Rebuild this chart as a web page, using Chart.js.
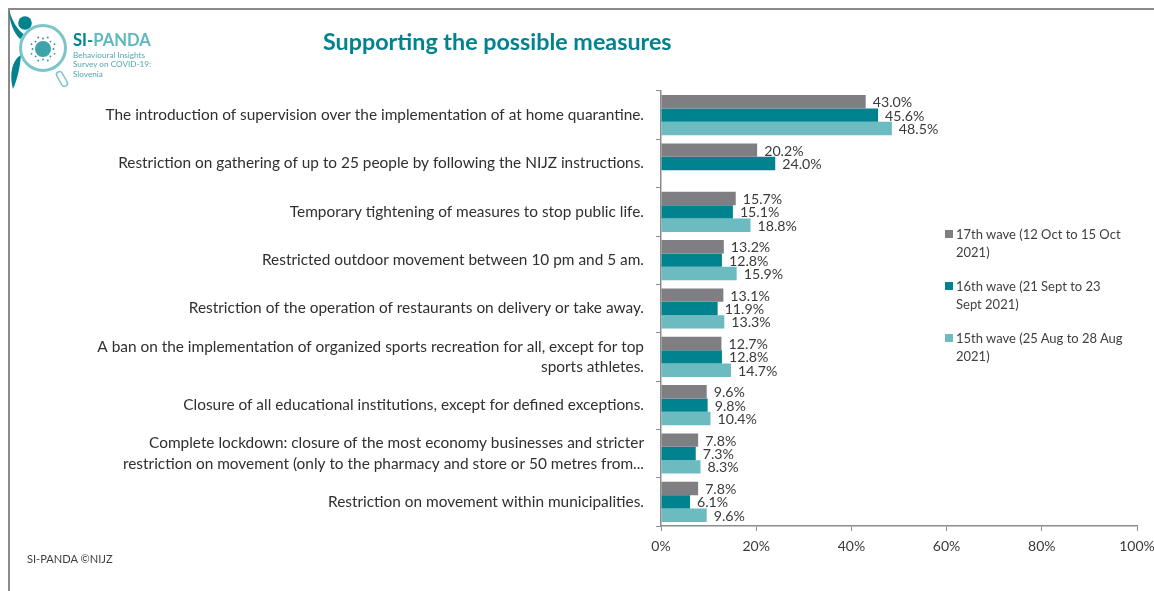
<!DOCTYPE html>
<html>
<head>
    <script src="https://cdn.jsdelivr.net/npm/chart.js"></script>
    <style>
        html, body { margin: 0; padding: 0; background: #fff; }
        body {
            width: 1154px;
            height: 591px;
            position: relative;
            overflow: hidden;
            font-family: Lato, sans-serif;
            color: #404040;
        }
        #frame {
            position: absolute;
            left: 8px;
            top: 8px;
            width: 1146px;
            height: 583px;
            border-left: 2px solid #8a8a8a;
            border-top: 2px solid #8a8a8a;
            box-sizing: border-box;
        }
        canvas { position: absolute; left: 0; top: 0; }
        .title {
            position: absolute;
            left: 323px;
            top: 27px;
            font-size: 23.3px;
            line-height: 28px;
            font-weight: 700;
            color: #00838f;
            white-space: nowrap;
        }
        .brand { position: absolute; left: 73px; top: 30px; white-space: nowrap; }
        .brand b { display: block; font-size: 16.6px; line-height: 20px; margin-bottom: 0.5px; color: #5fb8bf; }
        .brand b span { color: #00838f; }
        .brand div { font-size: 8.2px; line-height: 9.8px; color: #4fa9b0; }
        .footer { position: absolute; left: 27px; top: 552px; font-size: 11.1px; line-height: 14px; color: #404040; }
        .legend { position: absolute; left: 945px; top: 225px; width: 181px; }
        .legend div {
            position: relative;
            padding-left: 11px;
            height: 52px;
            font-size: 13px;
            line-height: 18px;
        }
        .legend i {
            position: absolute;
            left: 0;
            top: 5px;
            width: 8px;
            height: 8px;
        }
    </style>
</head>
<body>
    <div id="frame"></div>
    <canvas id="measuresChart" width="1154" height="591"></canvas>

    <svg style="position:absolute;left:0;top:0" width="80" height="100" id="logo">
        <circle cx="25" cy="23" r="6.8" fill="#00838f"/>
        <path d="M9 10 C12 20 17 30 25 35 L20 39 C13 32 9 20 9 10 Z" fill="#00838f"/>
        <path d="M13 89 C9 75 12 60 21 55 C20 66 18 78 13 89 Z" fill="#00838f"/>
        <rect x="-3" y="0" width="6" height="16" rx="3" transform="translate(58 72) rotate(-30)" fill="#fff" stroke="#7cc6ca" stroke-width="1.5"/>
        <circle cx="43" cy="48" r="22.5" fill="#fff" stroke="#7cc6ca" stroke-width="3"/>
        <circle cx="43" cy="49" r="8" fill="#3ea3ab"/>
        <g id="spikes" fill="#2f8f99"></g>
    </svg>

    <div class="brand">
        <b><span>SI-</span>PANDA</b>
        <div>Behavioural Insights</div>
        <div>Survey on COVID-19:</div>
        <div>Slovenia</div>
    </div>
    <div class="title">Supporting the possible measures</div>
    <div class="legend" id="legend"></div>
    <div class="footer">SI-PANDA ©NIJZ</div>

    <script>
        const categories = [
            'The introduction of supervision over the implementation of at home quarantine.',
            'Restriction on gathering of up to 25 people by following the NIJZ instructions.',
            'Temporary tightening of measures to stop public life.',
            'Restricted outdoor movement between 10 pm and 5 am.',
            'Restriction of the operation of restaurants on delivery or take away.',
            ['A ban on the implementation of organized sports recreation for all, except for top', 'sports athletes.'],
            'Closure of all educational institutions, except for defined exceptions.',
            ['Complete lockdown: closure of the most economy businesses and stricter', 'restriction on movement (only to the pharmacy and store or 50 metres from...'],
            'Restriction on movement within municipalities.'
        ];
        const wave17 = [43.0, 20.2, 15.7, 13.2, 13.1, 12.7, 9.6, 7.8, 7.8];
        const wave16 = [45.6, 24.0, 15.1, 12.8, 11.9, 12.8, 9.8, 7.3, 6.1];
        const wave15 = [48.5, null, 18.8, 15.9, 13.3, 14.7, 10.4, 8.3, 9.6];
        const xTicks = [0, 20, 40, 60, 80, 100];

        const colors = ['#7f7f83', '#00838f', '#6cbbc0'];
        const axisGray = '#8c8c8c';
        const textGray = '#3a3a3a';

        // little dots around the virus in the logo
        const spikes = document.getElementById('spikes');
        let dots = '';
        for (let i = 0; i < 16; i++) {
            const a = i / 16 * Math.PI * 2;
            const r = i % 2 ? 12.5 : 10.5;
            dots += '<circle cx="' + (43 + Math.cos(a) * r).toFixed(1) + '" cy="' + (49 + Math.sin(a) * r).toFixed(1) + '" r="0.9"/>';
        }
        spikes.innerHTML = dots;

        // value text at the end of each bar
        const barValues = {
            id: 'barValues',
            afterDatasetsDraw(chart) {
                const c = chart.ctx;
                c.save();
                c.font = '14.2px Lato';
                c.fillStyle = textGray;
                c.textBaseline = 'middle';
                chart.data.datasets.forEach((ds, i) => {
                    chart.getDatasetMeta(i).data.forEach((bar, j) => {
                        if (ds.data[j] === null) return;
                        c.fillText(ds.data[j].toFixed(1) + '%', bar.x + 7, bar.y + 1);
                    });
                });
                c.restore();
            }
        };

        const ctx = document.getElementById('measuresChart').getContext('2d');
        const chart = new Chart(ctx, {
            type: 'bar',
            data: {
                labels: categories,
                datasets: [
                    { label: '17th wave (12 Oct to 15 Oct 2021)', data: wave17, backgroundColor: colors[0] },
                    { label: '16th wave (21 Sept to 23 Sept 2021)', data: wave16, backgroundColor: colors[1] },
                    { label: '15th wave (25 Aug to 28 Aug 2021)', data: wave15, backgroundColor: colors[2] }
                ]
            },
            options: {
                indexAxis: 'y',
                responsive: false,
                animation: false,
                categoryPercentage: 0.83,
                barPercentage: 1,
                layout: { padding: { top: 91, right: 17, bottom: 0, left: 0 } },
                plugins: {
                    legend: { display: false },
                    tooltip: { enabled: false }
                },
                scales: {
                    x: {
                        min: 0,
                        max: 100,
                        afterFit(scale) {
                            scale.height = 65;
                            scale.paddingRight = 0;
                        },
                        afterBuildTicks(scale) { scale.ticks = xTicks.map(v => ({ value: v })); },
                        grid: { drawOnChartArea: false, color: axisGray, tickLength: 5 },
                        border: { color: axisGray, width: 1.5 },
                        ticks: {
                            color: textGray,
                            font: { family: 'Lato', size: 14 },
                            padding: 7,
                            maxRotation: 0,
                            callback: v => v + '%'
                        }
                    },
                    y: {
                        afterFit(scale) { scale.width = 661; },
                        grid: { drawOnChartArea: false, color: axisGray, tickLength: 5 },
                        border: { color: axisGray, width: 1.5 },
                        ticks: {
                            color: '#303030',
                            font: { family: 'Lato', size: 15.4, lineHeight: 1.32 },
                            padding: 12,
                            autoSkip: false
                        }
                    }
                }
            },
            plugins: [barValues]
        });

        // legend beside the plot, wraps like ordinary text
        const legendBox = document.getElementById('legend');
        chart.data.datasets.forEach(ds => {
            const row = document.createElement('div');
            const key = document.createElement('i');
            key.style.background = ds.backgroundColor;
            row.appendChild(key);
            row.appendChild(document.createTextNode(ds.label));
            legendBox.appendChild(row);
        });
    </script>
</body>
</html>
